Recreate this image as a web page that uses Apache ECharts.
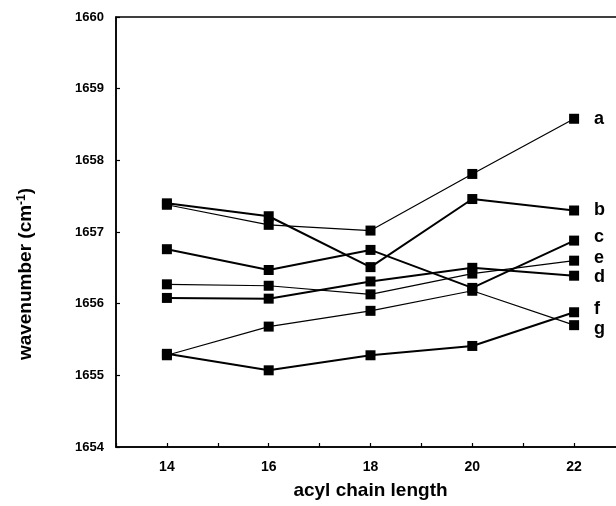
<!DOCTYPE html>
<html>
<head>
<meta charset="utf-8">
<script src="https://cdn.jsdelivr.net/npm/echarts@6/dist/echarts.min.js"></script>
<style>
html,body{margin:0;padding:0;background:#fff;}
#chart{width:616px;height:506px;}
</style>
</head>
<body>
<div id="chart"></div>
<script>
// acyl chain length vs amide I wavenumber
var chainLengths = [14, 16, 18, 20, 22];
var xTickLabels = [14, 16, 18, 20, 22];
var yTickLabels = [1654, 1655, 1656, 1657, 1658, 1659, 1660];

var seriesNames = ['a', 'b', 'c', 'd', 'e', 'f', 'g'];
var aVals = [1657.38, 1657.10, 1657.02, 1657.81, 1658.58];
var bVals = [1657.40, 1657.22, 1656.51, 1657.46, 1657.30];
var cVals = [1656.76, 1656.47, 1656.75, 1656.22, 1656.88];
var dVals = [1656.08, 1656.07, 1656.31, 1656.50, 1656.39];
var eVals = [1656.27, 1656.25, 1656.13, 1656.42, 1656.60];
var fVals = [1655.30, 1655.07, 1655.28, 1655.41, 1655.88];
var gVals = [1655.28, 1655.68, 1655.90, 1656.18, 1655.70];

var allVals = [aVals, bVals, cVals, dVals, eVals, fVals, gVals];
var lineWidths = [1.2, 2, 2, 2, 1.2, 2, 1.2];
var labelShift = [0, 0, -4, 1, -3, -3, 4];

var font = '"Liberation Sans", Arial, sans-serif';

var series = [];
for (var i = 0; i < allVals.length; i++) {
	var pts = [];
	for (var j = 0; j < chainLengths.length; j++) {
		pts.push([chainLengths[j], allVals[i][j]]);
	}
	series.push({
		name: seriesNames[i],
		type: 'line',
		data: pts,
		symbol: 'rect',
		symbolSize: 10,
		itemStyle: {color: '#000'},
		lineStyle: {color: '#000', width: lineWidths[i]},
		endLabel: {
			show: true,
			formatter: '{a}',
			distance: 20,
			offset: [0, labelShift[i]],
			color: '#000',
			fontFamily: font,
			fontWeight: 'bold',
			fontSize: 18
		},
		animation: false
	});
}

var myChart = echarts.init(document.getElementById('chart'));
var option = {
	backgroundColor: '#fff',
	grid: {
		left: 116,
		top: 17,
		width: 509,
		height: 430,
		outerBoundsMode: 'none',
		containLabel: false,
		show: true,
		borderColor: '#000',
		borderWidth: 1.5
	},
	xAxis: {
		type: 'value',
		min: 13,
		max: 23,
		interval: 1,
		name: 'acyl chain length',
		nameLocation: 'middle',
		nameGap: 34,
		nameTextStyle: {color: '#000', fontFamily: font, fontWeight: 'bold', fontSize: 19},
		splitLine: {show: false},
		axisLine: {lineStyle: {color: '#000', width: 1.5}},
		axisTick: {inside: true, length: 4, lineStyle: {color: '#000', width: 1.2}},
		axisLabel: {
			margin: 13,
			color: '#000',
			fontFamily: font,
			fontWeight: 'bold',
			fontSize: 14,
			formatter: function (v) {
				return xTickLabels.indexOf(v) >= 0 ? String(v) : '';
			}
		}
	},
	yAxis: {
		type: 'value',
		min: yTickLabels[0],
		max: yTickLabels[yTickLabels.length - 1],
		interval: 1,
		name: 'wavenumber (cm{sup|-1})',
		nameLocation: 'middle',
		nameGap: 80,
		nameTextStyle: {
			color: '#000', fontFamily: font, fontWeight: 'bold', fontSize: 19,
			padding: [0, 84, 0, 0],
			rich: {
				sup: {color: '#000', fontFamily: font, fontWeight: 'bold', fontSize: 12, verticalAlign: 'top', padding: [0, 0, 8, 0]}
			}
		},
		splitLine: {show: false},
		axisLine: {lineStyle: {color: '#000', width: 1.5}},
		axisTick: {inside: true, length: 4, lineStyle: {color: '#000', width: 1.2}},
		axisLabel: {
			margin: 12,
			color: '#000',
			fontFamily: font,
			fontWeight: 'bold',
			fontSize: 13,
			formatter: function (v) {
				return String(v);
			}
		}
	},
	series: series
};
myChart.setOption(option);
</script>
</body>
</html>
